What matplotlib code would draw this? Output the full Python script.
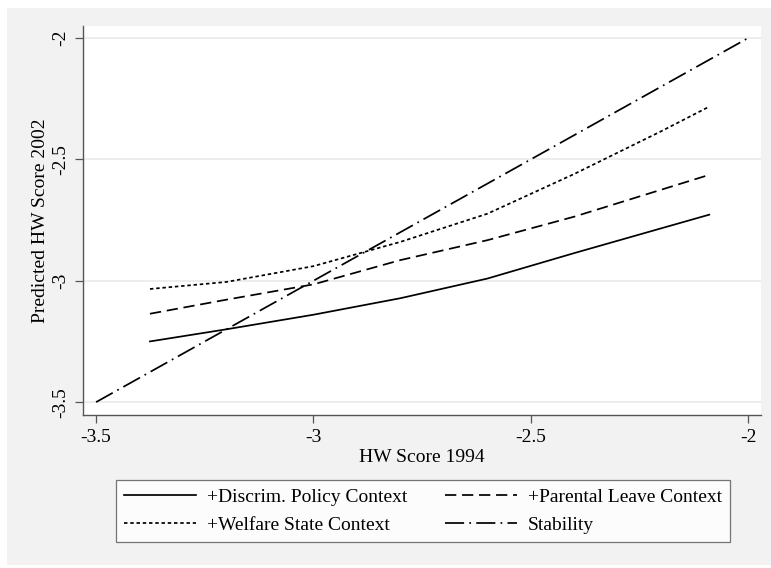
import numpy as np
import matplotlib
matplotlib.use('Agg')
import matplotlib.pyplot as plt
from matplotlib.patches import Rectangle

plt.rcParams['font.family'] = ['Liberation Serif', 'DejaVu Serif']

# --- data ---
x_fit = [-3.376, -3.2, -3.0, -2.8, -2.6, -2.4, -2.2, -2.09]
y_discrim = [-3.25, -3.20, -3.14, -3.072, -2.991, -2.886, -2.784, -2.728]
y_parental = [-3.136, -3.078, -3.015, -2.915, -2.833, -2.736, -2.625, -2.564]
y_welfare = [-3.034, -3.005, -2.94, -2.84, -2.724, -2.56, -2.384, -2.283]
x_stab = [-3.5, -2.0]
y_stab = [-3.5, -2.0]

xticks = [-3.5, -3, -2.5, -2]
xtick_labels = ['-3.5', '-3', '-2.5', '-2']
yticks = [-3.5, -3, -2.5, -2]
ytick_labels = ['-3.5', '-3', '-2.5', '-2']

W, H = 771, 568
fig = plt.figure(figsize=(W / 100, H / 100), dpi=100, facecolor='white')
# grey outer panel (Stata style)
fig.patches.append(Rectangle((7 / W, 3 / H), 1 - 7 / W, 1 - 11 / H, transform=fig.transFigure,
                             facecolor='#f2f2f2', edgecolor='none', zorder=-1))

ax = fig.add_axes([83 / W, 1 - 415 / H, 678 / W, 389 / H])
ax.set_facecolor('white')

lw = 1.25
ax.plot(x_fit, y_discrim, color='black', lw=lw, ls='-', label='+Discrim. Policy Context')
ax.plot(x_fit, y_parental, color='black', lw=lw, ls=(0, (6.5, 3.3)), label='+Parental Leave Context')
ax.plot(x_fit, y_welfare, color='black', lw=lw, ls=(0, (2.0, 1.6)), label='+Welfare State Context')
ax.plot(x_stab, y_stab, color='black', lw=lw, ls=(0, (11, 3, 1, 3)), label='Stability')

ax.set_xlim(-3.530, -1.971)
ax.set_ylim(-3.553, -1.951)
ax.set_xticks(xticks)
ax.set_xticklabels(xtick_labels)
ax.set_yticks(yticks)
ax.set_yticklabels(ytick_labels, rotation=90, va='center')
ax.grid(True, axis='y', color='#eaeaea', lw=1.2)
ax.set_axisbelow(True)
for s in ['top', 'right']:
    ax.spines[s].set_visible(False)
for s in ['left', 'bottom']:
    ax.spines[s].set_color('#555555')
    ax.spines[s].set_linewidth(1.0)
ax.tick_params(direction='out', length=6, width=0.9, color='#555555', labelsize=14, pad=4)

ax.set_xlabel('HW Score 1994', fontsize=14, labelpad=2)
ax.set_ylabel('Predicted HW Score 2002', fontsize=14, labelpad=2)

h, l = ax.get_legend_handles_labels()
order = [0, 2, 1, 3]
leg = fig.legend([h[i] for i in order], [l[i] for i in order], ncol=2,
                 loc='center', bbox_to_anchor=(423 / W, 1 - 511 / H),
                 fontsize=14, frameon=True, fancybox=False, handlelength=3.7,
                 columnspacing=1.9, handletextpad=0.6, labelspacing=0.55,
                 borderpad=0.4)
leg.get_frame().set_edgecolor('#555555')
leg.get_frame().set_linewidth(0.9)

fig.savefig('out.png', dpi=100, facecolor=fig.get_facecolor())
